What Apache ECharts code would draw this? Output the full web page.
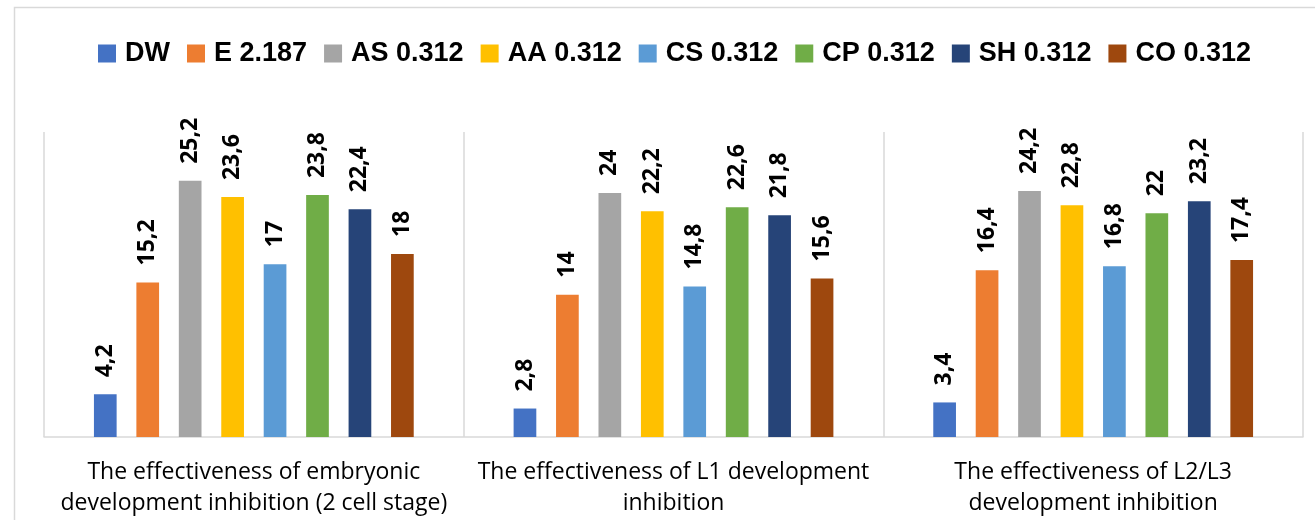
<!DOCTYPE html>
<html>
<head>
<meta charset="utf-8">
<script src="https://cdn.jsdelivr.net/npm/echarts@6/dist/echarts.min.js"></script>
<style>
  html, body { margin: 0; padding: 0; background: #fff; }
  #chart { width: 1315px; height: 520px; }
</style>
</head>
<body>
<div id="chart"></div>
<script>
// Test stages (x-axis groups)
const categories = [
  'The effectiveness of embryonic\ndevelopment inhibition (2 cell stage)',
  'The effectiveness of L1 development\ninhibition',
  'The effectiveness of L2/L3\ndevelopment inhibition'
];

// Treatment names shown in the legend
const seriesNames = ['DW', 'E 2.187', 'AS 0.312', 'AA 0.312', 'CS 0.312', 'CP 0.312', 'SH 0.312', 'CO 0.312'];

// Values per treatment, one per stage
const dw = [4.2, 2.8, 3.4];
const e2187 = [15.2, 14, 16.4];
const as0312 = [25.2, 24, 24.2];
const aa0312 = [23.6, 22.2, 22.8];
const cs0312 = [17, 14.8, 16.8];
const cp0312 = [23.8, 22.6, 22];
const sh0312 = [22.4, 21.8, 23.2];
const co0312 = [18, 15.6, 17.4];

const seriesValues = [dw, e2187, as0312, aa0312, cs0312, cp0312, sh0312, co0312];

const colors = ['#4472C4', '#ED7D31', '#A5A5A5', '#FFC000', '#5B9BD5', '#70AD47', '#264478', '#9E480E'];

const chart = echarts.init(document.getElementById('chart'), null, { renderer: 'canvas' });

const series = seriesNames.map((name, i) => ({
  name: name,
  type: 'bar',
  data: seriesValues[i],
  barGap: '87%',
  barCategoryGap: '23.8%',
  itemStyle: { color: colors[i] },
  label: {
    show: true,
    position: 'top',
    distance: 17,
    rotate: 90,
    align: 'left',
    verticalAlign: 'middle',
    fontFamily: 'Open Sans',
    fontWeight: 'bold',
    fontSize: 23,
    color: '#000',
    formatter: p => String(p.value).replace('.', ',')
  }
}));

chart.setOption({
  animation: false,
  color: colors,
  graphic: [{
    type: 'rect',
    silent: true,
    shape: { x: 14.5, y: 7.5, width: 1400, height: 600 },
    style: { fill: 'none', stroke: '#d9d9d9', lineWidth: 1.5 }
  }],
  legend: {
    left: 93,
    top: 35,
    itemWidth: 18,
    itemHeight: 18,
    itemGap: 17,
    icon: 'rect',
    textStyle: {
      fontFamily: 'Liberation Sans',
      fontWeight: 'bold',
      fontSize: 27,
      color: '#000',
      padding: [0, 0, 0, 4]
    },
    data: seriesNames
  },
  grid: { left: 44, right: 12, top: 132, bottom: 83, containLabel: false },
  xAxis: {
    type: 'category',
    data: categories,
    axisLine: { lineStyle: { color: '#d9d9d9', width: 1.5 } },
    axisTick: { show: false },
    splitLine: { show: true, lineStyle: { color: '#d9d9d9', width: 1.5 } },
    axisLabel: {
      interval: 0,
      margin: 20,
      fontFamily: 'Open Sans',
      fontSize: 23,
      lineHeight: 31,
      color: '#000'
    }
  },
  yAxis: {
    type: 'value',
    min: 0,
    max: 30,
    show: false,
    splitLine: { show: false }
  },
  series: series
});
</script>
</body>
</html>
